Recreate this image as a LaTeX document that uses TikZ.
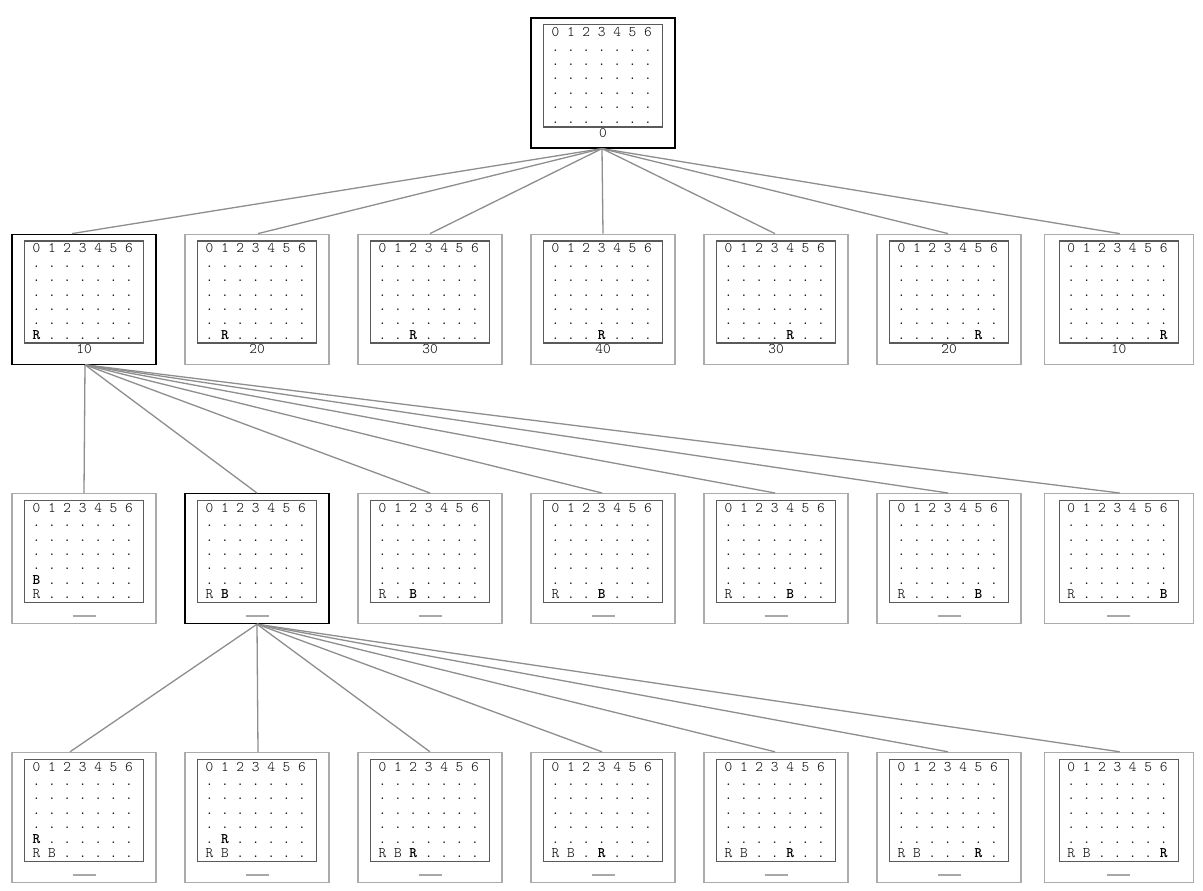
\documentclass[tikz,border=0pt]{standalone}
\usepackage{fontspec}
\setmainfont{Liberation Serif}
\newfontfamily\lmmono{lmmonolt10-regular.otf}[BoldFont=lmmonolt10-bold.otf]
\newcommand{\mono}{\lmmono\frenchspacing}
\definecolor{edgegray}{HTML}{8E8E8E}
\definecolor{boxgray}{HTML}{ABABAB}
\definecolor{framegray}{HTML}{5A5A5A}
\definecolor{bargray}{HTML}{A8A8A8}
\newcommand{\hdr}{0 1 2 3 4 5 6}
\newcommand{\dr}{. . . . . . .}
\newcommand{\pR}{\textbf{R}}
\newcommand{\pB}{\textbf{B}}
\newcommand{\labelbar}{\textcolor{bargray}{\rule[-3.4pt]{23pt}{2pt}}}
\tikzset{
  statebox/.style={draw=boxgray, line width=1.2pt, fill=white, anchor=north, inner sep=0pt,
    minimum width=144pt, minimum height=130pt},
  selbox/.style={statebox, draw=black},
  plainbox/.style={statebox},
  boardframe/.style={draw=framegray, line width=1.3pt, anchor=north, inner sep=0pt,
    minimum width=119pt, minimum height=102pt},
  boardtext/.style={anchor=base west, inner sep=0pt, text=black,
    font=\mono\fontsize{14.67}{14.4}\selectfont},
  labeltext/.style={anchor=base, inner sep=0pt, text=black,
    font=\mono\fontsize{14.67}{14.4}\selectfont},
  edge/.style={draw=edgegray, line width=1.3pt}
}
% #1 name, #2 x, #3 top y, #4 box style, #5 board rows, #6 label
\newcommand{\gamestate}[6]{%
  \node[#4] (#1) at (#2,#3) {};
  \node[boardframe] (#1-b) at ([yshift=-6.8pt]#1.north) {};
  \node[boardtext] (#1-t) at ([xshift=8.6pt,yshift=-12.5pt]#1-b.north west)
    {\begin{tabular}[t]{@{}l@{}}#5\end{tabular}};
  \node[labeltext] (#1-l) at ([yshift=-120.3pt]#1.north) {#6};
}
\begin{document}
\begin{tikzpicture}[x=1pt,y=-1pt]
\useasboundingbox[fill=white] (0,0) rectangle (1203,891);

% row 1
\gamestate{root}{603}{17.4}{selbox}{\hdr\\\dr\\\dr\\\dr\\\dr\\\dr\\\dr}{0}

% row 2
\gamestate{a1}{84}{233.6}{selbox}{\hdr\\\dr\\\dr\\\dr\\\dr\\\dr\\\pR{} . . . . . .}{10}
\gamestate{a2}{257}{233.6}{plainbox}{\hdr\\\dr\\\dr\\\dr\\\dr\\\dr\\. \pR{} . . . . .}{20}
\gamestate{a3}{430}{233.6}{plainbox}{\hdr\\\dr\\\dr\\\dr\\\dr\\\dr\\. . \pR{} . . . .}{30}
\gamestate{a4}{603}{233.6}{plainbox}{\hdr\\\dr\\\dr\\\dr\\\dr\\\dr\\. . . \pR{} . . .}{40}
\gamestate{a5}{776}{233.6}{plainbox}{\hdr\\\dr\\\dr\\\dr\\\dr\\\dr\\. . . . \pR{} . .}{30}
\gamestate{a6}{949}{233.6}{plainbox}{\hdr\\\dr\\\dr\\\dr\\\dr\\\dr\\. . . . . \pR{} .}{20}
\gamestate{a7}{1118.7}{233.6}{plainbox, minimum width=149pt}{\hdr\\\dr\\\dr\\\dr\\\dr\\\dr\\. . . . . . \pR}{10}

% row 3
\gamestate{b1}{84}{493}{plainbox}{\hdr\\\dr\\\dr\\\dr\\\dr\\\pB{} . . . . . .\\R . . . . . .}{\labelbar}
\gamestate{b2}{257}{493}{selbox}{\hdr\\\dr\\\dr\\\dr\\\dr\\\dr\\R \pB{} . . . . .}{\labelbar}
\gamestate{b3}{430}{493}{plainbox}{\hdr\\\dr\\\dr\\\dr\\\dr\\\dr\\R . \pB{} . . . .}{\labelbar}
\gamestate{b4}{603}{493}{plainbox}{\hdr\\\dr\\\dr\\\dr\\\dr\\\dr\\R . . \pB{} . . .}{\labelbar}
\gamestate{b5}{776}{493}{plainbox}{\hdr\\\dr\\\dr\\\dr\\\dr\\\dr\\R . . . \pB{} . .}{\labelbar}
\gamestate{b6}{949}{493}{plainbox}{\hdr\\\dr\\\dr\\\dr\\\dr\\\dr\\R . . . . \pB{} .}{\labelbar}
\gamestate{b7}{1118.7}{493}{plainbox, minimum width=149pt}{\hdr\\\dr\\\dr\\\dr\\\dr\\\dr\\R . . . . . \pB}{\labelbar}

% row 4
\gamestate{c1}{84}{751.8}{plainbox}{\hdr\\\dr\\\dr\\\dr\\\dr\\\pR{} . . . . . .\\R B . . . . .}{\labelbar}
\gamestate{c2}{257}{751.8}{plainbox}{\hdr\\\dr\\\dr\\\dr\\\dr\\. \pR{} . . . . .\\R B . . . . .}{\labelbar}
\gamestate{c3}{430}{751.8}{plainbox}{\hdr\\\dr\\\dr\\\dr\\\dr\\\dr\\R B \pR{} . . . .}{\labelbar}
\gamestate{c4}{603}{751.8}{plainbox}{\hdr\\\dr\\\dr\\\dr\\\dr\\\dr\\R B . \pR{} . . .}{\labelbar}
\gamestate{c5}{776}{751.8}{plainbox}{\hdr\\\dr\\\dr\\\dr\\\dr\\\dr\\R B . . \pR{} . .}{\labelbar}
\gamestate{c6}{949}{751.8}{plainbox}{\hdr\\\dr\\\dr\\\dr\\\dr\\\dr\\R B . . . \pR{} .}{\labelbar}
\gamestate{c7}{1118.7}{751.8}{plainbox, minimum width=149pt}{\hdr\\\dr\\\dr\\\dr\\\dr\\\dr\\R B . . . . \pR}{\labelbar}

% edges
\draw[edge] ([xshift=-1pt]root.south) -- ([xshift=-12pt]a1.north);
\foreach \n/\dx in {a2/1, a3/0, a4/0, a5/-1, a6/-1, a7/1}
  \draw[edge] ([xshift=-1pt]root.south) -- ([xshift=\dx pt]\n.north);
\foreach \n/\dx in {b1/0, b2/0, b3/0, b4/-1, b5/-1, b6/-1, b7/1}
  \draw[edge] ([xshift=1pt]a1.south) -- ([xshift=\dx pt]\n.north);
\draw[edge] (b2.south) -- ([xshift=-14pt]c1.north);
\foreach \n/\dx in {c2/1, c3/0, c4/-1, c5/-1, c6/-1, c7/1}
  \draw[edge] (b2.south) -- ([xshift=\dx pt]\n.north);
\end{tikzpicture}
\end{document}
